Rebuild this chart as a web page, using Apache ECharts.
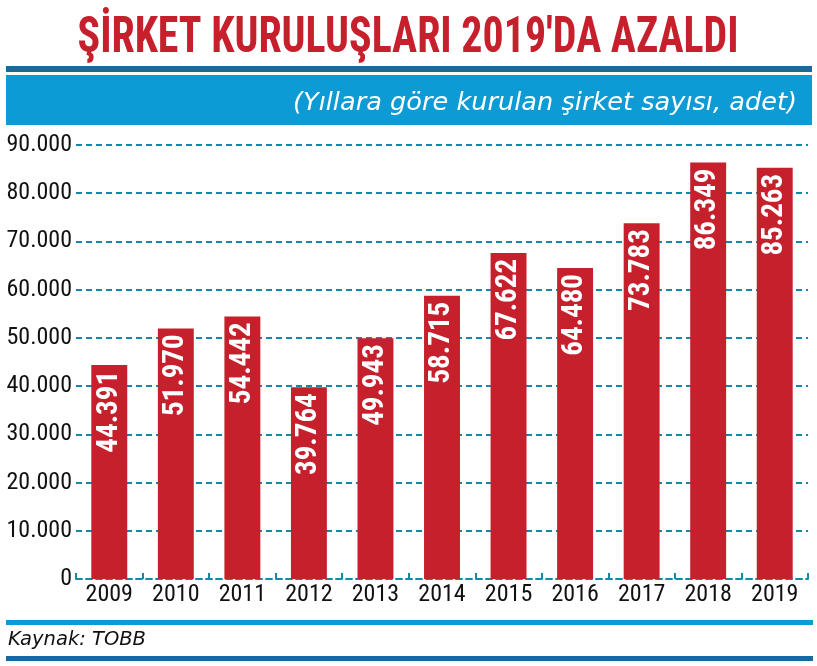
<!DOCTYPE html>
<html><head><meta charset="utf-8">
<script src="https://cdn.jsdelivr.net/npm/echarts@6/dist/echarts.min.js"></script>
<style>html,body{margin:0;padding:0;background:#fff}#c{width:817px;height:666px}</style>
</head><body><div id="c"></div>
<script>
const years = ['2009','2010','2011','2012','2013','2014','2015','2016','2017','2018','2019'];
const companies = [44391, 51970, 54442, 39764, 49943, 58715, 67622, 64480, 73783, 86349, 85263];
const yTicks = {min: 0, max: 90000, interval: 10000};
const titleText = "ŞİRKET KURULUŞLARI 2019'DA AZALDI";
const subtitleText = "(Yıllara göre kurulan şirket sayısı, adet)";
const sourceText = "Kaynak: TOBB";

const COND = "'Roboto Condensed'";
const fmt = v => String(v).replace(/\B(?=(\d{3})+(?!\d))/g, '.');
const teal = '#1689aa';

const mctx = document.createElement('canvas').getContext('2d');
function textW(text, font) { mctx.font = font; return mctx.measureText(text).width; }
const titleFont = "bold 50px 'Roboto Condensed'";
const subFont = "italic 25px 'DejaVu Sans'";
const srcFont = "italic 20px 'DejaVu Sans'";

const chart = echarts.init(document.getElementById('c'));
chart.setOption({
  animation: false,
  backgroundColor: '#fff',
  grid: {left: 76, right: 9, top: 145, bottom: 87, containLabel: false},
  xAxis: {
    type: 'category', data: years,
    axisLine: {lineStyle: {color: teal, width: 2, type: [6, 4]}},
    axisTick: {show: true, inside: true, length: 6, lineStyle: {color: teal, width: 2}},
    axisLabel: {interval: 0, color: '#111', fontFamily: COND, fontSize: 24, margin: 4}
  },
  yAxis: {
    type: 'value', min: yTicks.min, max: yTicks.max, interval: yTicks.interval,
    axisLine: {show: false}, axisTick: {show: false},
    axisLabel: {color: '#111', fontFamily: COND, fontSize: 24, margin: 4, formatter: fmt},
    splitLine: {lineStyle: {color: teal, width: 2, type: [6, 4]}}
  },
  series: [{
    type: 'bar', data: companies, barWidth: '54%',
    itemStyle: {color: '#c6202d'},
    label: {
      show: true, position: 'insideTop', rotate: 90, align: 'right', verticalAlign: 'middle',
      distance: 6, color: '#fff', fontFamily: COND, fontSize: 29, fontWeight: 'bold',
      formatter: p => fmt(p.value)
    }
  }],
  graphic: [
    {type: 'text', x: 408, y: 39, scaleX: 661 / textW(titleText, titleFont),
     style: {text: titleText, fill: '#c6202d', font: titleFont, align: 'center', verticalAlign: 'middle'}},
    {type: 'rect', shape: {x: 6, y: 66, width: 806, height: 6}, style: {fill: '#156b9c'}},
    {type: 'rect', shape: {x: 6, y: 75, width: 806, height: 50}, style: {fill: '#0d9bd6'}},
    {type: 'text', x: 797, y: 103, scaleX: 504 / textW(subtitleText, subFont),
     style: {text: subtitleText, fill: '#fff', font: subFont, align: 'right', verticalAlign: 'middle'}},
    {type: 'rect', shape: {x: 6, y: 620, width: 807, height: 5}, style: {fill: '#0d9bd6'}},
    {type: 'text', x: 8, y: 640, scaleX: 138 / textW(sourceText, srcFont),
     style: {text: sourceText, fill: '#111', font: srcFont, align: 'left', verticalAlign: 'middle'}},
    {type: 'rect', shape: {x: 6, y: 656, width: 807, height: 5}, style: {fill: '#156b9c'}}
  ]
});
</script></body></html>
